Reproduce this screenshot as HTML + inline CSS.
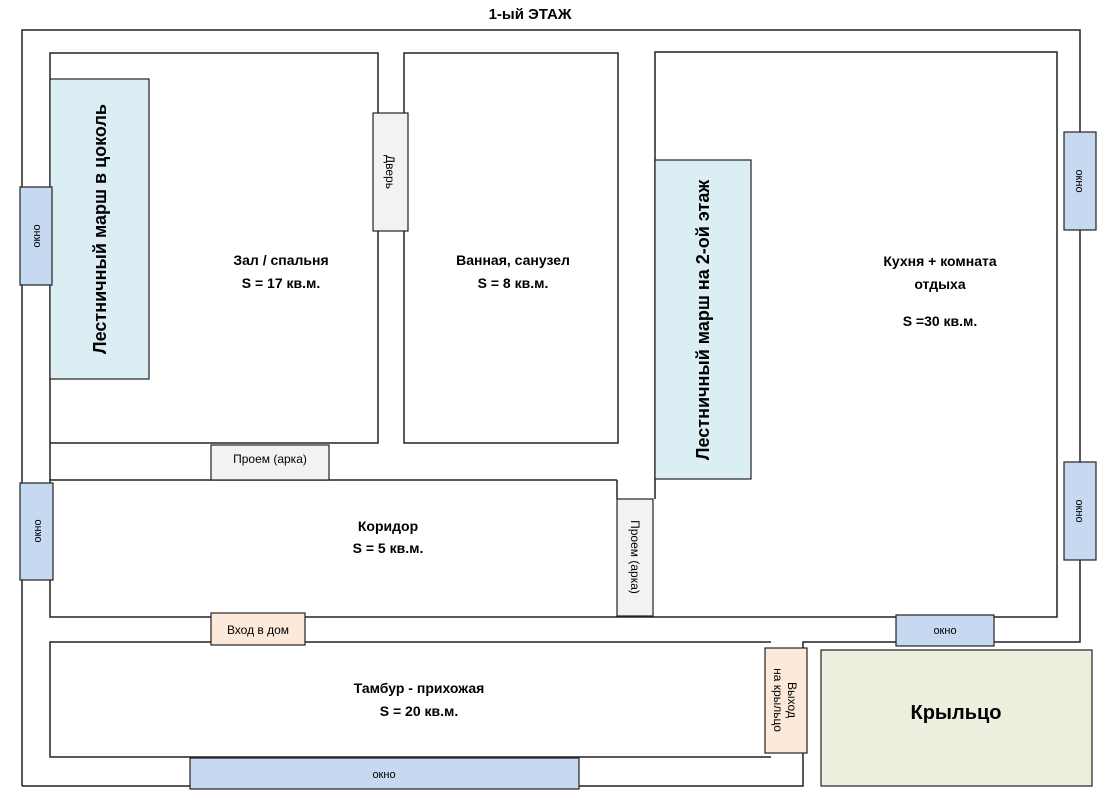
<!DOCTYPE html>
<html><head><meta charset="utf-8"><style>
body{margin:0;background:#fff}
svg{display:block;font-family:"Liberation Sans","DejaVu Sans",sans-serif}
.b{font-weight:bold;font-size:14px}
</style></head><body>
<svg width="1116" height="803" viewBox="0 0 1116 803">
<g fill="none" stroke="#222" stroke-width="1.5">
<polyline points="22,786 22,30 1080,30 1080,642 803,642 803,786 22,786"/>
<polyline points="50,443 50,53 378,53 378,443 50,443"/>
<rect x="404" y="53" width="214" height="390"/>
<polyline points="655,499 655,52 1057,52 1057,617 50,617 50,480 617,480"/>
<line x1="617" y1="480" x2="617" y2="499"/>
<line x1="50" y1="443" x2="50" y2="480"/>
<polyline points="771,642 50,642 50,757 771,757"/>
</g>
<g stroke="#222" stroke-width="1.2">
<rect x="50" y="79" width="99" height="300" fill="#daeef3"/>
<rect x="655" y="160" width="96" height="319" fill="#daeef3"/>
<rect x="373" y="113" width="35" height="118" fill="#f2f2f2"/>
<rect x="211" y="445" width="118" height="35" fill="#f2f2f2"/>
<rect x="617" y="499" width="36" height="117" fill="#f2f2f2"/>
<rect x="20" y="187" width="32" height="98" fill="#c6d9f0"/>
<rect x="20" y="483" width="33" height="97" fill="#c6d9f0"/>
<rect x="1064" y="132" width="32" height="98" fill="#c6d9f0"/>
<rect x="1064" y="462" width="32" height="98" fill="#c6d9f0"/>
<rect x="896" y="615" width="98" height="31" fill="#c6d9f0"/>
<rect x="190" y="758" width="389" height="31" fill="#c6d9f0"/>
<rect x="211" y="613" width="94" height="32" fill="#fde9d9"/>
<rect x="765" y="648" width="42" height="105" fill="#fde9d9"/>
<rect x="821" y="650" width="271" height="136" fill="#ebf1de"/>
</g>
<g fill="#000" text-anchor="middle">
<text x="530" y="19" class="b" style="font-size:15px">1-ый ЭТАЖ</text>
<text class="b" x="281" y="265">Зал / спальня</text>
<text class="b" x="281" y="288">S = 17 кв.м.</text>
<text class="b" x="513" y="265">Ванная, санузел</text>
<text class="b" x="513" y="288">S = 8 кв.м.</text>
<text class="b" x="940" y="266">Кухня + комната</text>
<text class="b" x="940" y="289">отдыха</text>
<text class="b" x="940" y="326">S =30 кв.м.</text>
<text class="b" x="388" y="531">Коридор</text>
<text class="b" x="388" y="553">S = 5 кв.м.</text>
<text class="b" x="419" y="693">Тамбур - прихожая</text>
<text class="b" x="419" y="716">S = 20 кв.м.</text>
<text x="956" y="719" style="font-weight:bold;font-size:20px">Крыльцо</text>
<text x="270" y="463" style="font-size:12px">Проем (арка)</text>
<text x="258" y="634" style="font-size:12px">Вход в дом</text>
<text x="945" y="634" style="font-size:11px">окно</text>
<text x="384" y="778" style="font-size:11px">окно</text>
<text transform="translate(100,229) rotate(-90)" style="font-weight:bold;font-size:18px" dy="6">Лестничный марш в цоколь</text>
<text transform="translate(703,320) rotate(-90)" style="font-weight:bold;font-size:18px" dy="6">Лестничный марш на 2-ой этаж</text>
<text transform="translate(390,172) rotate(90)" style="font-size:12px" dy="4">Дверь</text>
<text transform="translate(635,557) rotate(90)" style="font-size:12px" dy="4">Проем (арка)</text>
<text transform="translate(36,236) rotate(-90)" style="font-size:11px" dy="4">окно</text>
<text transform="translate(37,531) rotate(-90)" style="font-size:11px" dy="4">окно</text>
<text transform="translate(1080,181) rotate(90)" style="font-size:11px" dy="4">окно</text>
<text transform="translate(1080,511) rotate(90)" style="font-size:11px" dy="4">окно</text>
<text transform="translate(786,700) rotate(90)" style="font-size:12px"><tspan x="0" dy="-2">Выход</tspan><tspan x="0" dy="14">на крыльцо</tspan></text>
</g>
</svg>
</body></html>
